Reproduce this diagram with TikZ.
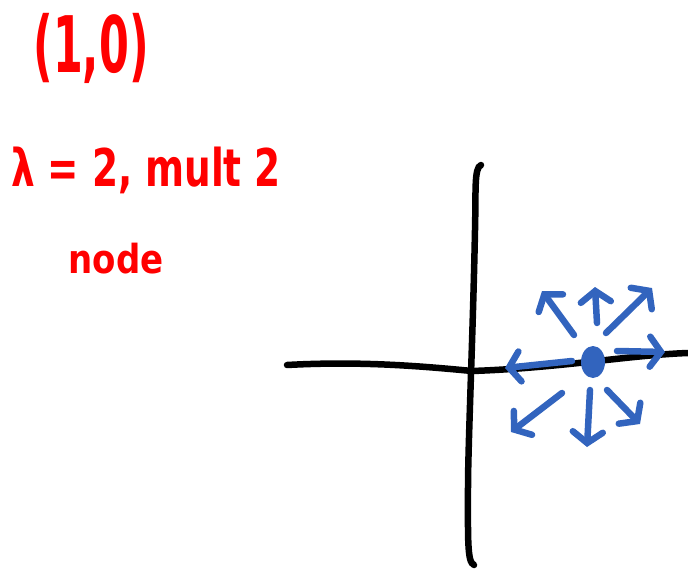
\documentclass[tikz,border=0pt]{standalone}
\usepackage{fontspec}
\setmainfont{DejaVu Sans}
\usetikzlibrary{calc, arrows.meta}

\definecolor{penred}{RGB}{255,0,0}
\definecolor{penblue}{RGB}{50,100,190}

\begin{document}
\begin{tikzpicture}[x=1pt, y=-1pt,
    axis/.style={line width=6.5pt, line cap=round, black},
    flow/.style={line width=6.5pt, line cap=round, line join=round, penblue,
      -{Straight Barb[length=11pt, width=30pt, line cap=round]}},
    note/.style={text=penred, font=\bfseries, inner sep=0pt}]
        % Canvas
        \useasboundingbox (0,0) rectangle (688,570);

        % Notes
        \node[note] (pt) at (91,48)
          {\scalebox{0.55}[1]{\fontsize{78}{78}\selectfont (1,0)}};
        \node[note] (eig) at (146,170)
          {\scalebox{0.72}[1]{\fontsize{52}{52}\selectfont λ = 2, mult 2}};
        \node[note] (kind) at (116,259)
          {\scalebox{0.85}[1]{\fontsize{40}{40}\selectfont node}};

        % Axes (hand drawn)
        \draw[axis] (287,365) .. controls (360,361) and (420,366) .. (472,371)
          .. controls (560,368) and (630,355) .. (688,353);
        \draw[axis] (481,165) .. controls (474,168) and (476,190) .. (475,230)
          .. controls (473,330) and (469,420) .. (468,480)
          .. controls (468,540) and (467,562) .. (474,565);

        % Critical point
        \fill[penblue] (593,362) ellipse (12 and 16);
        \coordinate (dot) at (593,362);

        % Arrows pointing away
        \foreach \sx/\sy/\ex/\ey in {4/-39/2/-75, -19/-27/-51/-71, 13/-29/59/-74,
            -21/-1/-88/6, 24/-11/72/-10, -31/31/-82/70, -3/28/-6/85, 14/28/47/62}
          \draw[flow] ($(dot)+(\sx,\sy)$) -- ($(dot)+(\ex,\ey)$);
    \end{tikzpicture}
\end{document}
